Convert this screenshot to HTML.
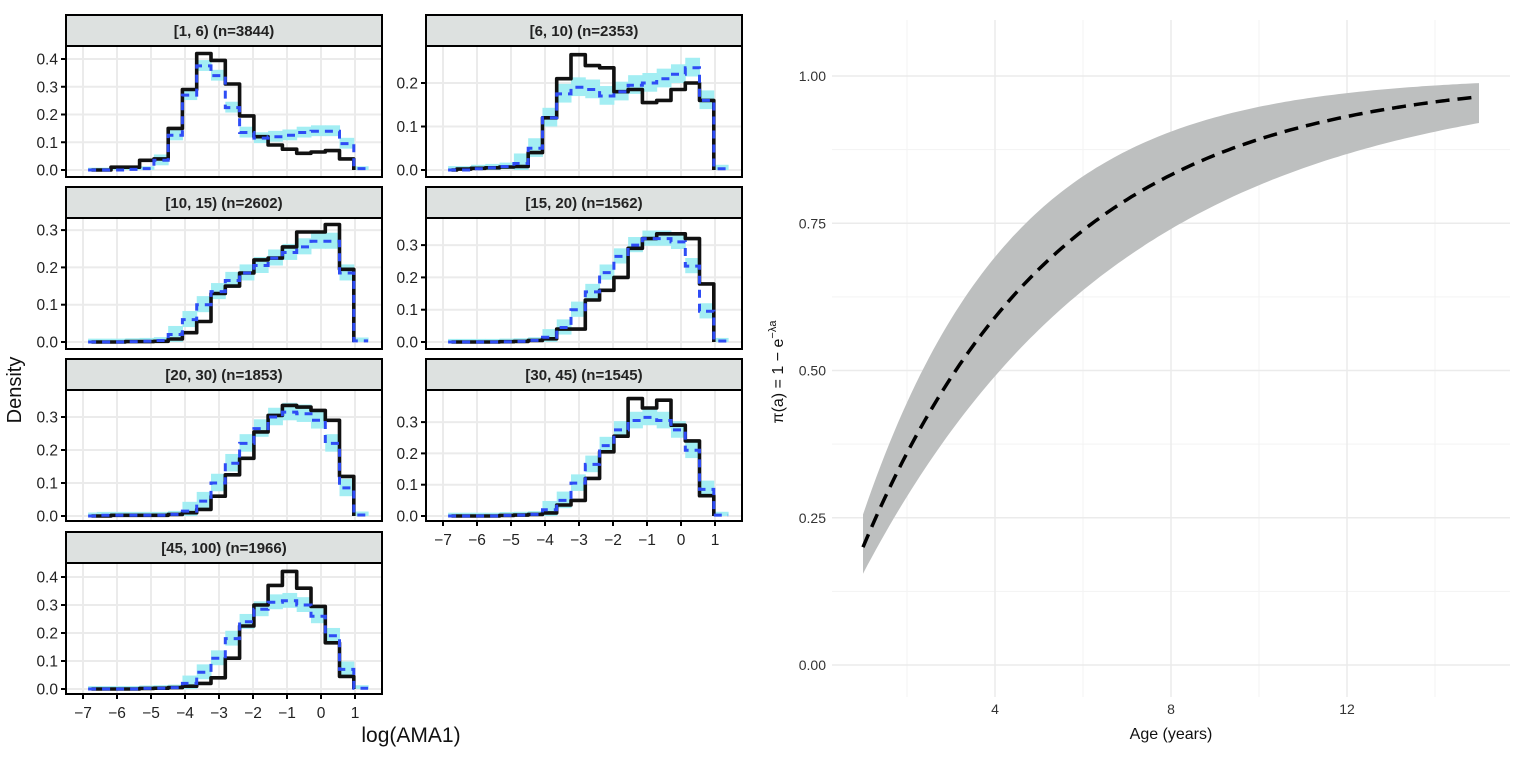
<!DOCTYPE html>
<html><head><meta charset="utf-8"><style>
html,body{margin:0;padding:0;background:#fff;}
svg{display:block;font-family:"Liberation Sans",sans-serif;}
</style></head><body>
<svg id="s" width="1521" height="758" xmlns="http://www.w3.org/2000/svg"></svg>
<script>
var S=document.getElementById('s'),h='';
function xv(v,off){return 83+off+34*(v+7);}
var panels=[
 {title:'[1, 6) (n=3844)',off:0,top:15,y0:170,ppu:277.5,ticks:[0,0.1,0.2,0.3,0.4],
  b:{'-7':0,'-6':0,'-5':0.01,'-4':0.01,'-3':0.035,'-2':0.04,'-1':0.15,0:0.29,1:0.42,2:0.395,3:0.31,4:0.195,5:0.12,6:0.09,7:0.075,8:0.06,9:0.065,10:0.07,11:0.04},
  u:{'-7':0,'-6':0,'-5':0,'-4':0.002,'-3':0.005,'-2':0.035,'-1':0.125,0:0.27,1:0.375,2:0.34,3:0.225,4:0.135,5:0.115,6:0.12,7:0.125,8:0.135,9:0.14,10:0.14,11:0.095,12:0.005},w:0.018},
 {title:'[6, 10) (n=2353)',off:360,top:15,y0:170,ppu:435,ticks:[0,0.1,0.2],
  b:{'-7':0,'-6':0.002,'-5':0.004,'-4':0.005,'-3':0.007,'-2':0.008,'-1':0.04,0:0.12,1:0.21,2:0.265,3:0.24,4:0.235,5:0.18,6:0.185,7:0.155,8:0.16,9:0.185,10:0.2,11:0.16},
  u:{'-7':0,'-6':0,'-5':0.003,'-4':0.005,'-3':0.008,'-2':0.015,'-1':0.05,0:0.12,1:0.175,2:0.19,3:0.185,4:0.17,5:0.18,6:0.195,7:0.2,8:0.21,9:0.22,10:0.235,11:0.16,12:0.003},w:0.02},
 {title:'[10, 15) (n=2602)',off:0,top:187,y0:342,ppu:373,ticks:[0,0.1,0.2,0.3],
  b:{'-7':0,'-6':0,'-5':0,'-4':0.001,'-3':0.001,'-2':0.002,'-1':0.008,0:0.025,1:0.055,2:0.13,3:0.15,4:0.185,5:0.22,6:0.225,7:0.255,8:0.295,9:0.295,10:0.315,11:0.195},
  u:{'-7':0,'-6':0,'-5':0,'-4':0.001,'-3':0.002,'-2':0.004,'-1':0.02,0:0.06,1:0.1,2:0.135,3:0.165,4:0.185,5:0.205,6:0.225,7:0.24,8:0.255,9:0.27,10:0.27,11:0.185,12:0.003},w:0.02},
 {title:'[15, 20) (n=1562)',off:360,top:187,y0:342,ppu:323,ticks:[0,0.1,0.2,0.3],
  b:{'-7':0,'-6':0,'-5':0,'-4':0,'-3':0.001,'-2':0.002,'-1':0.005,0:0.01,1:0.04,2:0.04,3:0.13,4:0.16,5:0.2,6:0.29,7:0.32,8:0.335,9:0.335,10:0.32,11:0.18},
  u:{'-7':0,'-6':0,'-5':0,'-4':0,'-3':0.001,'-2':0.002,'-1':0.005,0:0.015,1:0.045,2:0.1,3:0.155,4:0.215,5:0.265,6:0.3,7:0.32,8:0.32,9:0.31,10:0.235,11:0.095,12:0.003},w:0.022},
 {title:'[20, 30) (n=1853)',off:0,top:359,y0:516,ppu:330,ticks:[0,0.1,0.2,0.3],
  b:{'-7':0,'-6':0,'-5':0.002,'-4':0.002,'-3':0.002,'-2':0.002,'-1':0.005,0:0.01,1:0.02,2:0.06,3:0.125,4:0.175,5:0.255,6:0.305,7:0.335,8:0.33,9:0.32,10:0.29,11:0.12},
  u:{'-7':0,'-6':0.002,'-5':0.002,'-4':0.002,'-3':0.002,'-2':0.002,'-1':0.005,0:0.015,1:0.045,2:0.1,3:0.16,4:0.22,5:0.265,6:0.3,7:0.315,8:0.31,9:0.29,10:0.22,11:0.085,12:0.003},w:0.025},
 {title:'[30, 45) (n=1545)',off:360,top:359,y0:516,ppu:313,ticks:[0,0.1,0.2,0.3],
  b:{'-7':0,'-6':0,'-5':0,'-4':0,'-3':0.002,'-2':0.003,'-1':0.005,0:0.01,1:0.035,2:0.05,3:0.12,4:0.205,5:0.255,6:0.375,7:0.345,8:0.37,9:0.29,10:0.24,11:0.065},
  u:{'-7':0,'-6':0,'-5':0,'-4':0,'-3':0.002,'-2':0.003,'-1':0.005,0:0.02,1:0.05,2:0.105,3:0.165,4:0.225,5:0.275,6:0.305,7:0.315,8:0.305,9:0.275,10:0.21,11:0.085,12:0.003},w:0.025},
 {title:'[45, 100) (n=1966)',off:0,top:532,y0:689,ppu:280,ticks:[0,0.1,0.2,0.3,0.4],
  b:{'-7':0,'-6':0,'-5':0,'-4':0,'-3':0.002,'-2':0.003,'-1':0.005,0:0.01,1:0.02,2:0.04,3:0.11,4:0.225,5:0.3,6:0.37,7:0.42,8:0.36,9:0.295,10:0.165,11:0.045},
  u:{'-7':0,'-6':0,'-5':0,'-4':0,'-3':0.002,'-2':0.003,'-1':0.005,0:0.02,1:0.06,2:0.11,3:0.18,4:0.24,5:0.285,6:0.31,7:0.315,8:0.3,9:0.26,10:0.19,11:0.07,12:0.003},w:0.025}
];
function edge(k){return -4.075+0.42*k;}
panels.forEach(function(p,i){
  var L=66+p.off,R=382+p.off,T=p.top,ST=31,PT=T+ST,PB=PT+131;
  function Y(v){return p.y0-v*p.ppu;}
  h+='<rect x="'+L+'" y="'+T+'" width="'+(R-L)+'" height="'+ST+'" fill="#dde1e0" stroke="#000" stroke-width="2"/>';
  h+='<text x="'+((L+R)/2)+'" y="'+(T+21)+'" text-anchor="middle" font-size="15" font-weight="bold" fill="#222">'+p.title+'</text>';
  h+='<rect x="'+L+'" y="'+PT+'" width="'+(R-L)+'" height="131" fill="#fff"/>';
  for(var v=-7;v<=1;v++){var x=xv(v,p.off);h+='<line x1="'+x+'" x2="'+x+'" y1="'+PT+'" y2="'+PB+'" stroke="#ebebeb" stroke-width="2"/>';}
  p.ticks.forEach(function(t){var y=Y(t);h+='<line x1="'+L+'" x2="'+R+'" y1="'+y+'" y2="'+y+'" stroke="#ebebeb" stroke-width="2"/>';
    h+='<line x1="'+(L-5)+'" x2="'+L+'" y1="'+y+'" y2="'+y+'" stroke="#000" stroke-width="2"/>';
    h+='<text x="'+(L-8)+'" y="'+(y+5.5)+'" text-anchor="end" font-size="15.5" fill="#222">'+t.toFixed(1)+'</text>';});
  var bp='';
  for(var k=-7;k<=12;k++){var u=p.u[k];if(u===undefined)continue;var x1=xv(edge(k),p.off),x2=xv(edge(k+1),p.off);
    if(k==-7)x1=xv(-6.85,p.off);
    var lo=Math.max(0,u-p.w*(u>0.01?1:0.3)),hi=u+p.w*(u>0.01?1:0.3)+0.003;
    bp+='<rect x="'+x1+'" y="'+Y(hi)+'" width="'+(x2-x1+0.5)+'" height="'+(Y(lo)-Y(hi))+'" fill="#a3eef3"/>';}
  h+=bp;
  function path(d,last,start){var s='';for(var k=-7;k<=last;k++){var v=d[k];var x1=xv(edge(k),p.off),x2=xv(edge(k+1),p.off);if(k==-7)x1=xv(start,p.off);
      s+=(k==-7?'M':'L')+x1.toFixed(1)+','+Y(v).toFixed(1)+'L'+x2.toFixed(1)+','+Y(v).toFixed(1);}return s;}
  var bk=path(p.b,11,-6.75)+'L'+xv(edge(12),p.off).toFixed(1)+','+Y(0);
  h+='<path d="'+bk+'" fill="none" stroke="#111" stroke-width="3.6" stroke-linejoin="round"/>';
  h+='<path d="'+path(p.u,12,-6.85)+'" fill="none" stroke="#2e4cf5" stroke-width="3" stroke-dasharray="8,6"/>';
  h+='<rect x="'+L+'" y="'+PT+'" width="'+(R-L)+'" height="131" fill="none" stroke="#000" stroke-width="2"/>';
  if(i==5||i==6){for(var v=-7;v<=1;v++){var x=xv(v,p.off);h+='<line x1="'+x+'" x2="'+x+'" y1="'+PB+'" y2="'+(PB+5)+'" stroke="#000" stroke-width="2"/>';
    h+='<text x="'+x+'" y="'+(PB+24)+'" text-anchor="middle" font-size="15.5" fill="#222">'+(v<0?'\u2212'+(-v):v)+'</text>';}}
});
h+='<text transform="translate(21,390) rotate(-90)" text-anchor="middle" font-size="20" fill="#111">Density</text>';
h+='<text x="411" y="742" text-anchor="middle" font-size="21" fill="#111">log(AMA1)</text>';
function AX(a){return 995+44*(a-4);}
function AY(v){return 665-589*v;}
var PL=832,PR=1510,PT2=20,PB2=697;
[2,6,10,14].forEach(function(a){h+='<line x1="'+AX(a)+'" x2="'+AX(a)+'" y1="'+PT2+'" y2="'+PB2+'" stroke="#f3f3f3" stroke-width="1"/>';});
[0.125,0.375,0.625,0.875].forEach(function(v){h+='<line x1="'+PL+'" x2="'+PR+'" y1="'+AY(v)+'" y2="'+AY(v)+'" stroke="#f3f3f3" stroke-width="1"/>';});
[4,8,12].forEach(function(a){h+='<line x1="'+AX(a)+'" x2="'+AX(a)+'" y1="'+PT2+'" y2="'+PB2+'" stroke="#ebebeb" stroke-width="1.5"/>';
  h+='<text x="'+AX(a)+'" y="714" text-anchor="middle" font-size="14" fill="#333">'+a+'</text>';});
[0,0.25,0.5,0.75,1].forEach(function(v){h+='<line x1="'+PL+'" x2="'+PR+'" y1="'+AY(v)+'" y2="'+AY(v)+'" stroke="#ebebeb" stroke-width="1.5"/>';
  h+='<text x="826" y="'+(AY(v)+5)+'" text-anchor="end" font-size="14" fill="#333">'+v.toFixed(2)+'</text>';});
var up='',lo='',md='';
for(var a=1;a<=15.001;a+=0.1){up+=(a==1?'M':'L')+AX(a).toFixed(1)+','+AY(1-Math.exp(-0.295*a)).toFixed(1);md+=(a==1?'M':'L')+AX(a).toFixed(1)+','+AY(1-Math.exp(-0.2231*a)).toFixed(1);}
for(var a=15;a>=0.999;a-=0.1){lo+='L'+AX(a).toFixed(1)+','+AY(1-Math.exp(-0.1685*a)).toFixed(1);}
h+='<path d="'+up+lo+'Z" fill="#bdbfbf"/>';
h+='<path d="'+md+'" fill="none" stroke="#000" stroke-width="3.5" stroke-dasharray="14,8"/>';
h+='<text x="1171" y="739" text-anchor="middle" font-size="16" fill="#111">Age (years)</text>';
h+='<text transform="translate(783,372) rotate(-90)" text-anchor="middle" font-size="16" fill="#111">\u03c0(a) = 1 \u2212 e<tspan dy="-7" font-size="11">\u2212\u03bba</tspan></text>';
S.innerHTML=h;
</script>
</body></html>
